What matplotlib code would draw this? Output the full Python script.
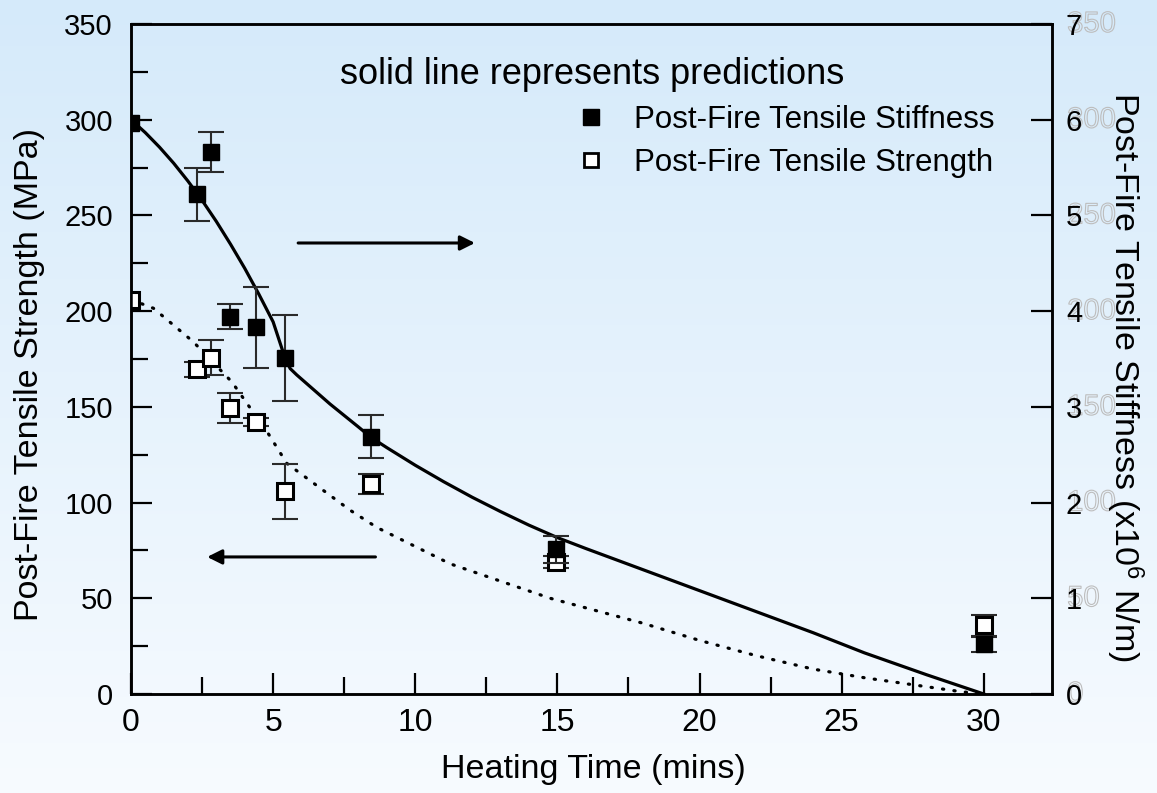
import numpy as np
import matplotlib
matplotlib.use("Agg")
import matplotlib.pyplot as plt
from matplotlib.colors import LinearSegmentedColormap
from matplotlib.lines import Line2D
from matplotlib.ticker import MultipleLocator
from matplotlib import patheffects as pe

plt.rcParams["font.family"] = ["Liberation Sans", "DejaVu Sans"]
plt.rcParams["mathtext.fontset"] = "custom"
plt.rcParams["mathtext.rm"] = "Liberation Sans"
plt.rcParams["mathtext.default"] = "regular"

# Measured post-fire properties
heating_time = [0, 2.33, 2.83, 3.5, 4.4, 5.42, 8.45, 14.95, 30]
stiffness = [5.97, 5.22, 5.66, 3.94, 3.83, 3.51, 2.69, 1.51, 0.52]          # x10^6 N/m
stiffness_err = [0.0, 0.28, 0.21, 0.13, 0.42, 0.45, 0.22, 0.14, 0.08]
strength = [206, 169.6, 175.7, 149.4, 142.1, 106, 109.7, 69, 35.9]          # MPa
strength_err = [0.0, 4.0, 9.3, 8.0, 2.3, 14.4, 5.4, 3.0, 5.5]

# Model predictions
stiff_pred_time = [0, 0.5, 1.0, 1.5, 2.0, 2.5, 3.0, 3.5, 4.0, 4.5, 5.0, 5.43,
                   5.6, 5.83, 6.5, 7.0, 7.5, 8.0, 8.45, 9, 10, 11, 12, 13, 14,
                   15, 16, 17, 18, 20, 22, 24, 25.8, 28, 30]
stiff_pred = [6.0, 5.866, 5.714, 5.546, 5.36, 5.158, 4.938, 4.70, 4.448, 4.176,
              3.888, 3.50, 3.40, 3.334, 3.16, 3.03, 2.91, 2.79, 2.68, 2.574,
              2.39, 2.218, 2.056, 1.906, 1.764, 1.634, 1.52, 1.41, 1.30, 1.08,
              0.86, 0.64, 0.43, 0.20, 0.0]
str_pred_time = [0, 0.79, 2.19, 3.55, 4.07, 4.83, 5.48, 6.89, 7.71, 8.65, 11.23,
                 14.75, 18, 20, 22, 24, 25.8, 29.2, 30]
str_pred = [206, 201.5, 184, 163, 152, 136, 120.5, 105, 96, 87, 68,
            50, 37, 28, 20, 13, 8.5, 1.2, 0]

strength_ticks = [0, 50, 100, 150, 200, 250, 300, 350]
stiffness_ticks = [0, 1, 2, 3, 4, 5, 6, 7]
time_ticks = [0, 5, 10, 15, 20, 25, 30]

W, H = 1157, 793
fig = plt.figure(figsize=(W / 100, H / 100), dpi=100)

# soft vertical background gradient
bg = fig.add_axes([0, 0, 1, 1], zorder=-10)
grad = np.linspace(0, 1, 256).reshape(-1, 1)
cmap = LinearSegmentedColormap.from_list("bg", ["#f7fbff", "#d5eafa"])
bg.imshow(grad, aspect="auto", cmap=cmap, origin="lower", extent=[0, 1, 0, 1])
bg.axis("off")

ax = fig.add_axes([131 / W, 99 / H, 921 / W, 670 / H])
ax.set_facecolor("none")
ax.set_xlim(0, 32.4)
ax.set_ylim(0, 350)
ax2 = ax.twinx()
ax2.set_ylim(0, 7)

for a in (ax, ax2):
    for s in a.spines.values():
        s.set_linewidth(1.8)

ax.set_xticks(time_ticks)
ax.set_yticks(strength_ticks)
ax.xaxis.set_minor_locator(MultipleLocator(2.5))
ax.yaxis.set_minor_locator(MultipleLocator(25))
ax.tick_params(which="both", direction="in", width=1.6, top=False, right=False,
               labelsize=21)
ax.tick_params(which="major", length=15)
ax.tick_params(which="minor", length=12)
ax.tick_params(axis="x", pad=10, labelsize=23)
ax.tick_params(axis="y", pad=13)

ax2.set_yticks(stiffness_ticks)
ax2.tick_params(axis="y", direction="in", length=15, width=1.6, labelsize=21, pad=10)

# strength labels repeated faintly beside the stiffness scale
for v in strength_ticks:
    ax.text(1.0165, v, str(v), transform=ax.get_yaxis_transform(), ha="left",
            va="center", fontsize=21, color=(1, 1, 1, 0), zorder=0,
            path_effects=[pe.Stroke(linewidth=0.8, foreground="#bdbdbd")])

# prediction curves
ax.plot(str_pred_time, str_pred, color="black", lw=2.3,
        linestyle=(0, (0.4, 3.2)), dash_capstyle="round", zorder=2)
ax2.plot(stiff_pred_time, stiff_pred, color="black", lw=2.3, zorder=2,
         solid_joinstyle="round")

# measured strength (open squares)
t = np.array(heating_time)
se = np.array(strength_err)
m = se > 0
ax.errorbar(t[m], np.array(strength)[m], yerr=se[m], fmt="none", ecolor="#2a2a2a",
            elinewidth=1.5, capsize=9.5, capthick=1.5, zorder=3)
ax.plot(heating_time, strength, "s", ms=11, mfc="white", mec="black", mew=2.2,
        zorder=4)

# measured stiffness (filled squares)
ke = np.array(stiffness_err)
m = ke > 0
ax2.errorbar(t[m], np.array(stiffness)[m], yerr=ke[m], fmt="none", ecolor="#2a2a2a",
             elinewidth=1.5, capsize=9.5, capthick=1.5, zorder=3)
ax2.plot(heating_time, stiffness, "s", ms=12, mfc="black", mec="black", zorder=4)

# arrows pointing to each curve's scale
ax.annotate("", xy=(12.1, 235.6), xytext=(5.88, 235.6),
            arrowprops=dict(arrowstyle="-|>", color="black", lw=2.2,
                            mutation_scale=22, shrinkA=0, shrinkB=0))
ax.annotate("", xy=(2.68, 71.6), xytext=(8.6, 71.6),
            arrowprops=dict(arrowstyle="-|>", color="black", lw=2.2,
                            mutation_scale=22, shrinkA=0, shrinkB=0))

fig.text(340 / W, 1 - 75 / H, "solid line represents predictions", fontsize=26,
         ha="left", va="center")

handles = [Line2D([], [], ls="none", marker="s", ms=11, mfc="black", mec="black"),
           Line2D([], [], ls="none", marker="s", ms=10, mfc="white", mec="black", mew=2)]
ax2.legend(handles, ["Post-Fire Tensile Stiffness", "Post-Fire Tensile Strength"],
           loc="upper left", bbox_to_anchor=(575 / W, 1 - 105 / H),
           bbox_transform=fig.transFigure, frameon=False, fontsize=22.5,
           handlelength=1.0, handletextpad=0.9, labelspacing=0.42, borderpad=0,
           borderaxespad=0)

ax.set_xlabel("Heating Time (mins)", fontsize=24.5)
ax.xaxis.label.set(va="center", ha="center")
ax.xaxis.set_label_coords(0.5016, -0.113)
ax.set_ylabel("Post-Fire Tensile Strength (MPa)", fontsize=24.5)
ax.yaxis.label.set(va="center", ha="center")
ax.yaxis.set_label_coords(-0.1097, 0.477)
ax2.set_ylabel(r"Post-Fire Tensile Stiffness (x10$^{6}$ N/m)", fontsize=24.5,
               rotation=270)
ax2.yaxis.label.set(va="center", ha="center")
ax2.yaxis.set_label_coords(1.079, 0.473)

fig.savefig("out.png", dpi=100)
